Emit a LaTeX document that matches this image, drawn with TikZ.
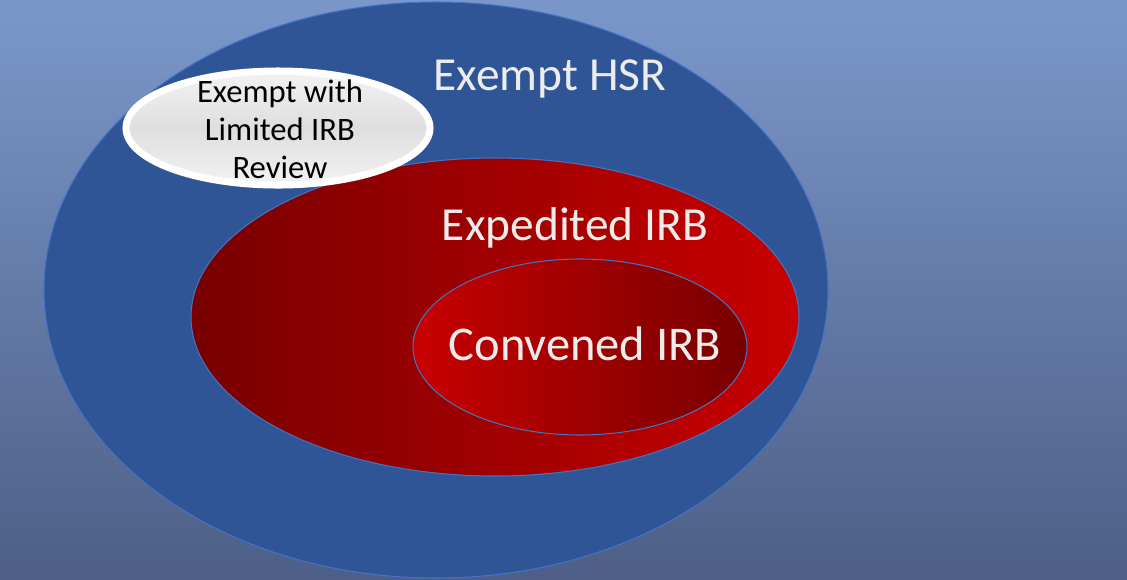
\documentclass[tikz,border=0pt]{standalone}
\usepackage{fontspec}
\setmainfont{Carlito}
\definecolor{HsrBlue}{RGB}{47,85,151}
\definecolor{HsrEdge}{RGB}{68,114,196}
\definecolor{IrbRed}{RGB}{200,0,0}
\definecolor{IrbDark}{RGB}{120,0,0}
\definecolor{BgTop}{RGB}{123,151,202}
\definecolor{BgBottom}{RGB}{77,95,134}
\definecolor{TextGrey}{RGB}{236,236,236}
\usetikzlibrary{math}

\begin{document}
\begin{tikzpicture}[x=0.02cm,y=-0.02cm,
    bigtext/.style={text=TextGrey,inner sep=0pt,font=\fontsize{27}{32}\selectfont},
    smalltext/.style={text=black,inner sep=0pt,align=center,font=\fontsize{18.6}{21.5}\selectfont}]
    \tikzmath{
      \w=1127; \h=579; % picture size in px
    }
    \useasboundingbox (0,0) rectangle (\w,\h);
    \shade[top color=BgTop,bottom color=BgBottom] (0,0) rectangle (\w,\h);
    % exempt HSR
    \filldraw[fill=HsrBlue,draw=HsrEdge,line width=0.6pt] (436,290) ellipse [x radius=392,y radius=288];
    % expedited IRB
    \shade[left color=IrbDark,right color=IrbRed] (495,317) ellipse [x radius=304,y radius=159];
    \draw[HsrEdge,line width=0.6pt] (495,317) ellipse [x radius=304,y radius=159];
    % convened IRB
    \shade[left color=IrbRed,right color=IrbDark] (580,347) ellipse [x radius=167,y radius=88];
    \draw[HsrEdge,line width=0.6pt] (580,347) ellipse [x radius=167,y radius=88];
    % limited review
    \shade[top color=white!90!gray,bottom color=white!90!gray,middle color=white!75!gray]
      (278,128) ellipse [x radius=152,y radius=57];
    \draw[white,line width=4pt] (278,128) ellipse [x radius=152,y radius=57];
    \node[bigtext] (hsr) at (550,79) {Exempt HSR};
    \node[bigtext] (expedited) at (575,228) {Expedited IRB};
    \node[bigtext,font=\fontsize{27.6}{33}\selectfont] (convened) at (585,344) {Convened IRB};
    \node[smalltext] (limited) at (280,129) {Exempt with\\Limited IRB\\Review};
\end{tikzpicture}
\end{document}
